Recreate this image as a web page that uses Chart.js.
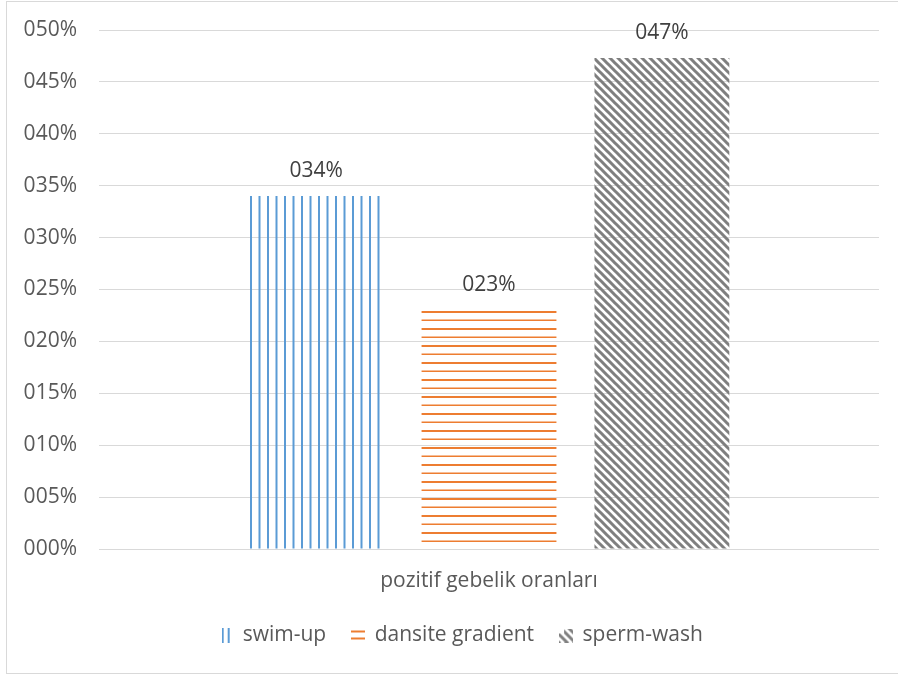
<!DOCTYPE html>
<html>
<head>
<meta charset="utf-8">
<script src="https://cdn.jsdelivr.net/npm/chart.js@4.4.1/dist/chart.umd.min.js"></script>
<style>
  html, body { margin: 0; padding: 0; background: #fff; }
  #wrap { position: relative; width: 898px; height: 675px; overflow: hidden; }
  #frame { position: absolute; left: 6px; top: 1px; width: 900px; height: 671px;
           border: 1px solid #d9d9d9; pointer-events: none; }
</style>
</head>
<body>
<div id="wrap">
  <canvas id="chart" width="898" height="675"></canvas>
  <div id="frame"></div>
</div>
<script>
// --- DONNEES ---
const categories = ['pozitif gebelik oranları'];
const seriesNames = ['swim-up', 'dansite gradient', 'sperm-wash'];
const swimUp = [0.34];
const dansiteGradient = [0.23];
const spermWash = [0.473];
const yTicks = [0, 0.05, 0.10, 0.15, 0.20, 0.25, 0.30, 0.35, 0.40, 0.45, 0.50];

const TEXT_COLOR = '#595959';
const FONT = { family: "'Open Sans', sans-serif", size: 21 };
const LEGEND_SHIFT = 22; // la légende d'Excel n'est pas centrée sur le canvas

function fmtPct(v) {
    return String(Math.round(v * 100)).padStart(3, '0') + '%';
}

// --- MOTIFS ---
function makeCanvas(w, h, draw) {
    const c = document.createElement('canvas');
    c.width = w;
    c.height = h;
    draw(c.getContext('2d'));
    return c;
}
function makePattern(w, h, draw) {
    return document.getElementById('chart').getContext('2d')
        .createPattern(makeCanvas(w, h, draw), 'repeat');
}

function diagStripes(ctx, size) {
    ctx.strokeStyle = '#7f7f7f';
    ctx.lineWidth = 3;
    ctx.beginPath();
    for (let k = -size; k <= size * 2; k += 8) {
        ctx.moveTo(k - 2, -2);
        ctx.lineTo(k + size + 2, size + 2);
    }
    ctx.stroke();
}

// lignes verticales bleues
const bluePattern = makePattern(17, 17, ctx => {
    ctx.fillStyle = '#5b9bd5';
    ctx.fillRect(3.5, 0, 2, 17);
    ctx.fillRect(12, 0, 2, 17);
});

// lignes horizontales orange
const orangePattern = makePattern(17, 17, ctx => {
    ctx.fillStyle = '#ed7d31';
    ctx.fillRect(0, 5, 17, 2);
    ctx.fillRect(0, 13.5, 17, 1.5);
});

// diagonales grises
const grayPattern = makePattern(8, 8, ctx => diagStripes(ctx, 8));

// pastilles de légende
const legendIcons = [
    makeCanvas(9, 15, ctx => {
        ctx.fillStyle = '#5b9bd5';
        ctx.fillRect(0, 0, 2, 15);
        ctx.fillRect(6, 0, 2, 15);
    }),
    makeCanvas(14, 12, ctx => {
        ctx.fillStyle = '#ed7d31';
        ctx.fillRect(0, 1, 14, 2);
        ctx.fillRect(0, 8, 14, 2);
    }),
    makeCanvas(14, 14, ctx => {
        diagStripes(ctx, 14);
        ctx.clearRect(0, 0, 5, 5);
    })
];

// --- ETIQUETTES DE VALEUR ---
const valueLabels = {
    id: 'valueLabels',
    afterDatasetsDraw(chart) {
        const ctx = chart.ctx;
        ctx.save();
        ctx.font = `${FONT.size}px ${FONT.family}`;
        ctx.fillStyle = '#404040';
        ctx.textAlign = 'center';
        ctx.textBaseline = 'bottom';
        chart.data.datasets.forEach((ds, i) => {
            chart.getDatasetMeta(i).data.forEach((bar, j) => {
                ctx.fillText(fmtPct(ds.data[j]), bar.x, bar.y - 15);
            });
        });
        ctx.restore();
    }
};

const bgWhite = {
    id: 'bgWhite',
    beforeDraw(chart) {
        const ctx = chart.ctx;
        ctx.save();
        ctx.fillStyle = '#fff';
        ctx.fillRect(0, 0, chart.width, chart.height);
        ctx.restore();
    }
};

const legendOffset = {
    id: 'legendOffset',
    afterLayout(chart) {
        chart.legend.left += LEGEND_SHIFT * 2;
    }
};

new Chart(document.getElementById('chart'), {
    type: 'bar',
    data: {
        labels: categories,
        datasets: [
            { label: seriesNames[0], data: swimUp, backgroundColor: bluePattern },
            { label: seriesNames[1], data: dansiteGradient, backgroundColor: orangePattern },
            { label: seriesNames[2], data: spermWash, backgroundColor: grayPattern }
        ]
    },
    options: {
        responsive: false,
        animation: false,
        devicePixelRatio: 1,
        categoryPercentage: 0.665,
        barPercentage: 0.78,
        layout: { padding: { top: 30, right: 19, bottom: 19, left: 0 } },
        scales: {
            x: {
                afterFit(scale) { scale.height = 50; },
                grid: { display: false, drawTicks: false },
                border: { display: false },
                ticks: { color: TEXT_COLOR, font: FONT, padding: 19 }
            },
            y: {
                min: 0,
                max: 0.5,
                afterBuildTicks(scale) {
                    scale.ticks = yTicks.map(v => ({ value: v }));
                },
                afterFit(scale) {
                    scale.width = 99;
                    scale.paddingTop = 0;
                    scale.paddingBottom = 0;
                },
                grid: { color: '#d9d9d9', lineWidth: 1, drawTicks: false },
                border: { display: false },
                ticks: { color: TEXT_COLOR, font: FONT, padding: 22, callback: v => fmtPct(v) }
            }
        },
        plugins: {
            legend: {
                position: 'bottom',
                labels: {
                    color: TEXT_COLOR,
                    font: FONT,
                    boxWidth: 12,
                    boxHeight: 15,
                    padding: 26,
                    usePointStyle: true,
                    generateLabels(chart) {
                        const items = Chart.defaults.plugins.legend.labels.generateLabels(chart);
                        items.forEach((it, i) => { it.pointStyle = legendIcons[i]; });
                        return items;
                    }
                }
            },
            tooltip: { enabled: false }
        }
    },
    plugins: [bgWhite, legendOffset, valueLabels]
});
</script>
</body>
</html>
